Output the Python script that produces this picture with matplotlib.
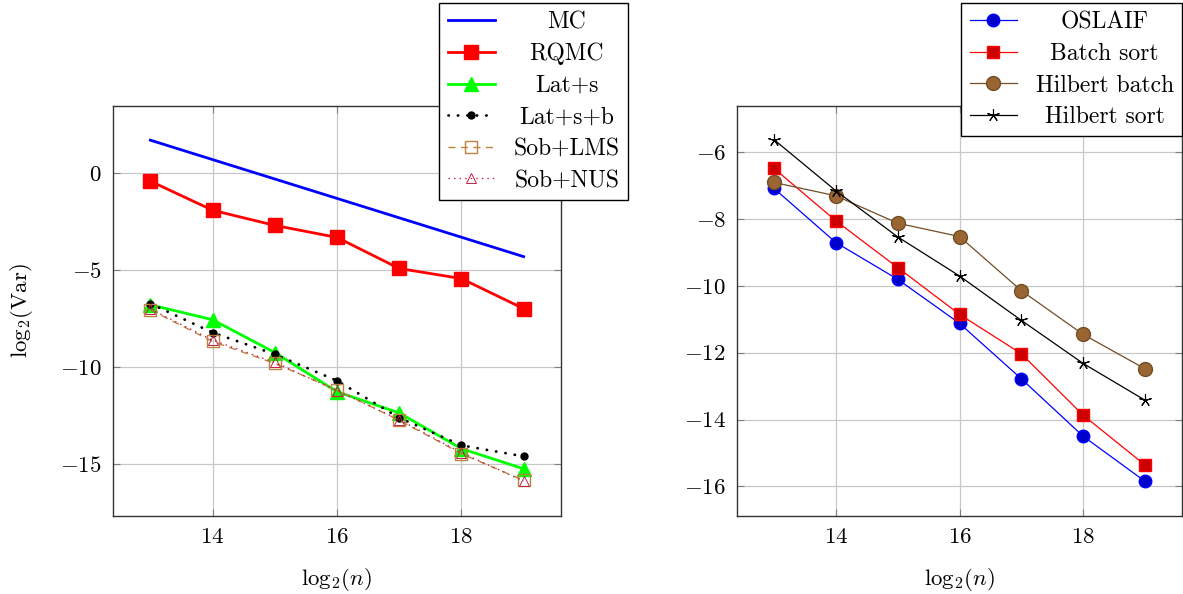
import matplotlib
matplotlib.use("Agg")
import matplotlib.pyplot as plt
import numpy as np

plt.rcParams['font.family'] = ['cmr10', 'DejaVu Serif']
plt.rcParams['mathtext.fontset'] = 'cm'
plt.rcParams['axes.formatter.use_mathtext'] = True
plt.rcParams['font.size'] = 16.5

logn = [13, 14, 15, 16, 17, 18, 19]

# variance of the estimators (left panel)
mc = [1.7, 0.7, -0.3, -1.3, -2.3, -3.3, -4.3]
rqmc = [-0.41, -1.91, -2.69, -3.31, -4.91, -5.43, -6.98]
lat_s = [-6.78, -7.55, -9.24, -11.26, -12.35, -14.19, -15.23]
lat_s_b = [-6.72, -8.21, -9.33, -10.69, -12.60, -14.02, -14.59]
sob_lms = [-7.04, -8.67, -9.80, -11.17, -12.73, -14.45, -15.83]
sob_nus = [-7.00, -8.60, -9.75, -11.20, -12.70, -14.40, -15.86]

# sorting strategies (right panel)
oslaif = [-7.08, -8.70, -9.80, -11.12, -12.78, -14.50, -15.85]
batch_sort = [-6.48, -8.05, -9.45, -10.85, -12.03, -13.87, -15.36]
hilbert_batch = [-6.90, -7.30, -8.12, -8.52, -10.14, -11.45, -12.48]
hilbert_sort = [-5.62, -7.15, -8.53, -9.70, -11.03, -12.32, -13.42]

fig = plt.figure(figsize=(11.83, 5.94), dpi=100)
ax1 = fig.add_axes([113/1183, 78/594, 448/1183, 410/594])
ax2 = fig.add_axes([737/1183, 78/594, 445/1183, 410/594])

def style_axes(ax):
    ax.grid(True, color='#c8c8c8', linewidth=0.9)
    ax.set_axisbelow(True)
    ax.tick_params(direction='in', length=5, color='#808080', right=True, top=True, pad=8)
    for s in ax.spines.values():
        s.set_color('#333333')
        s.set_linewidth(1.0)
    ax.set_xlim(12.4, 19.6)
    ax.set_xticks([14, 16, 18])
    ax.set_xlabel(r'$\mathrm{log}_2(n)$', labelpad=14)

def centred_legend(handles, corner):
    leg = fig.legend(handles=handles, loc='upper right', bbox_to_anchor=corner,
                     borderaxespad=0, fancybox=False, edgecolor='black', framealpha=1,
                     handlelength=2.0, labelspacing=0.4, borderpad=0.35,
                     handletextpad=0.8, fontsize=17)
    leg.get_frame().set_linewidth(1.0)
    fig.canvas.draw()
    r = fig.canvas.get_renderer()
    widths = [t.get_window_extent(r).width for t in leg.get_texts()]
    w = max(widths)
    # centre each label in the text column
    for t, wi in zip(leg.get_texts(), widths):
        t.set_position(((w - wi) / 2, 0))
    return leg

# left
ax1.plot(logn, mc, color='#0000ff', lw=2, label='MC')
ax1.plot(logn, rqmc, color='#ff0000', lw=2, marker='s', ms=10, label='RQMC')
ax1.plot(logn, lat_s, color='#00ff00', lw=2, marker='^', ms=10, label='Lat+s')
ax1.plot(logn, lat_s_b, color='black', lw=2, linestyle=(0, (0.1, 3.3)),
         dash_capstyle='round', marker='o', ms=5, label='Lat+s+b')
ax1.plot(logn, sob_lms, color='#bf8040', lw=1, linestyle=(0, (5, 4)),
         marker='s', ms=9, mfc='none', mew=1, label='Sob+LMS')
ax1.plot(logn, sob_nus, color='#c0204a', lw=1, linestyle=(0, (1, 3)),
         marker='^', ms=7, mfc='none', mew=0.7, label='Sob+NUS')
style_axes(ax1)
ax1.set_ylim(-17.66, 3.46)
ax1.set_yticks([0, -5, -10, -15])
ax1.set_ylabel(r'$\mathrm{log}_2(\mathrm{Var})$', labelpad=18)

# right
ax2.plot(logn, oslaif, color='#0000ff', lw=0.9, marker='o', ms=9, mfc='#0000cc', mec='#0000ff', label='OSLAIF')
ax2.plot(logn, batch_sort, color='#ff0000', lw=0.9, marker='s', ms=9, mfc='#cc0000', mec='#ff0000', label='Batch sort')
ax2.plot(logn, hilbert_batch, color='#734d26', lw=0.9, marker='o', ms=10, mfc='#996633', mec='#734d26', label='Hilbert batch')
ax2.plot(logn, hilbert_sort, color='black', lw=0.9, marker=(5, 2, 0), ms=9, mew=0.8, label='Hilbert sort')
style_axes(ax2)
ax2.set_ylim(-16.89, -4.61)
ax2.set_yticks([-6, -8, -10, -12, -14, -16])

centred_legend(ax1.get_lines(), (628/1183, 1 - 3/594))
centred_legend(ax2.get_lines(), (1182/1183, 1 - 3/594))

fig.savefig('out.png', dpi=100)
